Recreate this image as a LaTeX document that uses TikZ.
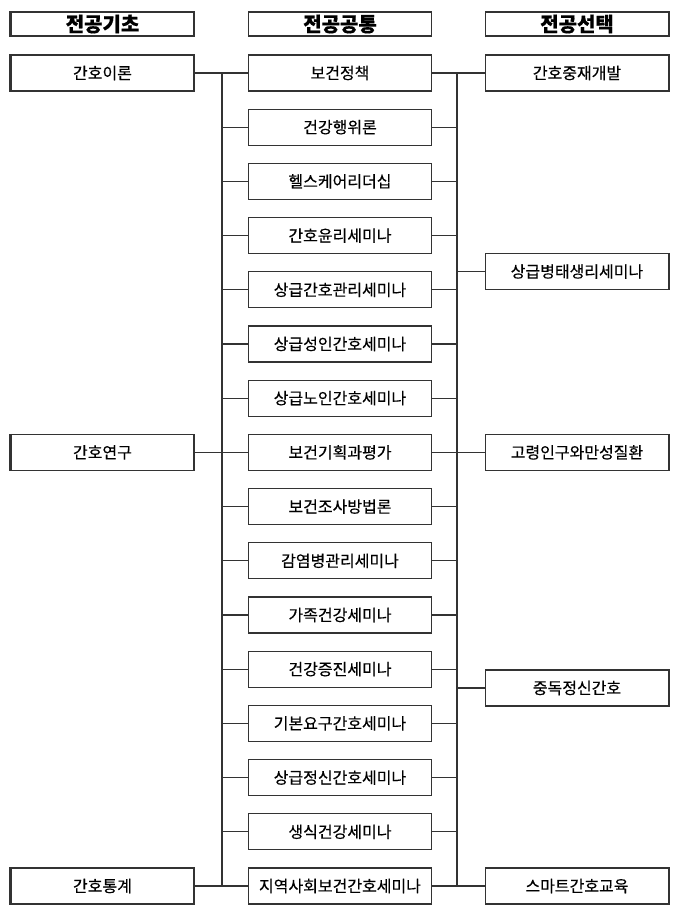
\documentclass[tikz,border=0pt]{standalone}
\usepackage{fontspec}
\setmainfont{Noto Sans CJK KR}[FakeBold=0.4]
\usepackage{tikz}
\usetikzlibrary{positioning, calc}

\begin{document}
\begin{tikzpicture}[x=1pt, y=-1pt,
    box/.style={draw=black!80, line width=1.2pt, minimum width=183pt, minimum height=36pt, inner sep=0pt, font=\fontsize{16}{18}\selectfont},
    headbox/.style={box, minimum height=24pt, font=\fontsize{20}{22}\selectfont\bfseries},
    thickleft/.style={append after command={(\tikzlastnode.north west) edge[draw=black!80, line width=2.2pt] (\tikzlastnode.south west)}},
    thickright/.style={append after command={(\tikzlastnode.north east) edge[draw=black!80, line width=2.2pt] (\tikzlastnode.south east)}},
    link/.style={draw=black!80, line width=1.2pt}]

    \useasboundingbox (0,0) rectangle (680,916);

    % column heads
    \node[headbox, thickleft] (hbase) at (102.5,24) {전공기초};
    \node[headbox] (hcommon) at (340,24) {전공공통};
    \node[headbox, thickright] (hselect) at (577,24) {전공선택};

    % common courses
    \node[box] (c1) at (340,73) {보건정책};
    \node[box] (c2) at (340,127.2) {건강행위론};
    \node[box] (c3) at (340,181.4) {헬스케어리더십};
    \node[box] (c4) at (340,235.6) {간호윤리세미나};
    \node[box] (c5) at (340,289.8) {상급간호관리세미나};
    \node[box] (c6) at (340,344) {상급성인간호세미나};
    \node[box] (c7) at (340,398.2) {상급노인간호세미나};
    \node[box] (c8) at (340,452.4) {보건기획과평가};
    \node[box] (c9) at (340,506.6) {보건조사방법론};
    \node[box] (c10) at (340,560.8) {감염병관리세미나};
    \node[box] (c11) at (340,615) {가족건강세미나};
    \node[box] (c12) at (340,669.2) {건강증진세미나};
    \node[box] (c13) at (340,723.4) {기본요구간호세미나};
    \node[box] (c14) at (340,777.6) {상급정신간호세미나};
    \node[box] (c15) at (340,831.8) {생식건강세미나};
    \node[box] (c16) at (340,886) {지역사회보건간호세미나};

    % basic courses
    \node[box, thickleft] (b1) at (102.5,73) {간호이론};
    \node[box, thickleft] (b2) at (102.5,452.4) {간호연구};
    \node[box, thickleft] (b3) at (102.5,886) {간호통계};

    % elective courses
    \node[box, thickright] (s1) at (577,73) {간호중재개발};
    \node[box, thickright] (s2) at (577,271.5) {상급병태생리세미나};
    \node[box, thickright] (s3) at (577,452.4) {고령인구와만성질환};
    \node[box, thickright] (s4) at (577,688) {중독정신간호};
    \node[box, thickright] (s5) at (577,886) {스마트간호교육};

    % buses
    \coordinate (lbtop) at (222,73);
    \coordinate (lbbot) at (222,886);
    \coordinate (rbtop) at (457,73);
    \coordinate (rbbot) at (457,886);
    \draw[link] (lbtop) -- (lbbot);
    \draw[link] (rbtop) -- (rbbot);

    % through lines
    \draw[link] (b1) -- (c1) -- (s1);
    \draw[link] (b2) -- (c8) -- (s3);
    \draw[link] (b3) -- (c16) -- (s5);

    % stubs
    \draw[link] (c2.west) -- (c2.west -| lbtop) (c2.east) -- (c2.east -| rbtop);
    \draw[link] (c3.west) -- (c3.west -| lbtop) (c3.east) -- (c3.east -| rbtop);
    \draw[link] (c4.west) -- (c4.west -| lbtop) (c4.east) -- (c4.east -| rbtop);
    \draw[link] (c5.west) -- (c5.west -| lbtop) (c5.east) -- (c5.east -| rbtop);
    \draw[link] (c6.west) -- (c6.west -| lbtop) (c6.east) -- (c6.east -| rbtop);
    \draw[link] (c7.west) -- (c7.west -| lbtop) (c7.east) -- (c7.east -| rbtop);
    \draw[link] (c9.west) -- (c9.west -| lbtop) (c9.east) -- (c9.east -| rbtop);
    \draw[link] (c10.west) -- (c10.west -| lbtop) (c10.east) -- (c10.east -| rbtop);
    \draw[link] (c11.west) -- (c11.west -| lbtop) (c11.east) -- (c11.east -| rbtop);
    \draw[link] (c12.west) -- (c12.west -| lbtop) (c12.east) -- (c12.east -| rbtop);
    \draw[link] (c13.west) -- (c13.west -| lbtop) (c13.east) -- (c13.east -| rbtop);
    \draw[link] (c14.west) -- (c14.west -| lbtop) (c14.east) -- (c14.east -| rbtop);
    \draw[link] (c15.west) -- (c15.west -| lbtop) (c15.east) -- (c15.east -| rbtop);
    \draw[link] (s2.west) -- (s2.west -| rbtop);
    \draw[link] (s4.west) -- (s4.west -| rbtop);
\end{tikzpicture}
\end{document}
